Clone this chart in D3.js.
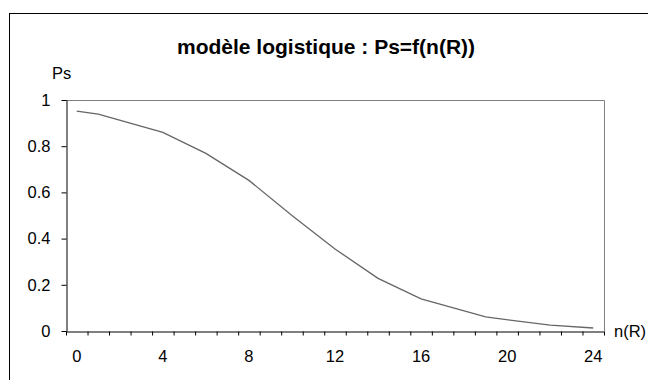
<!DOCTYPE html>
<html>
<head>
<meta charset="utf-8">
<script src="https://cdn.jsdelivr.net/npm/d3@7"></script>
<style>
  html, body { margin: 0; padding: 0; background: #fff; }
  svg { display: block; font-family: "Liberation Sans", Arial, sans-serif; }
</style>
</head>
<body>
<svg id="chart" width="648" height="380"></svg>
<script>
// Survival probability Ps as a function of n(R), logistic model
const nValues  = [0, 1, 4, 6, 8, 10, 12, 14, 16, 19, 22, 24];
const psValues = [0.952, 0.939, 0.86, 0.769, 0.652, 0.50, 0.355, 0.228, 0.139, 0.061, 0.025, 0.013];
const xTickLabels = [0, 4, 8, 12, 16, 20, 24];
const yTickValues = [0, 0.2, 0.4, 0.6, 0.8, 1];

const points = nValues.map((n, i) => ({ n, ps: psValues[i] }));

const svg = d3.select("#chart");
const plot = { left: 66, right: 604, top: 100, bottom: 331 };
const labelSize = 16.5;

// chart frame (partly outside the window)
svg.append("rect")
  .attr("x", 9.5).attr("y", 13.5)
  .attr("width", 660).attr("height", 400)
  .attr("fill", "#fff").attr("stroke", "#000").attr("stroke-width", 1);

// categories 0..24 occupy equal slots; slot centres carry the points
const x = d3.scaleLinear().domain([-0.5, 24.5]).range([plot.left, plot.right]);
const y = d3.scaleLinear().domain([0, 1]).range([plot.bottom, plot.top]);

// top and right borders of the plot area
svg.append("path")
  .attr("d", `M${plot.left},${plot.top + 0.5}H${plot.right + 0.5}V${plot.bottom}`)
  .attr("fill", "none").attr("stroke", "#808080").attr("stroke-width", 1);

// x axis: a tick at every slot boundary, labels every four categories
const xAxisG = svg.append("g").attr("transform", `translate(0,${plot.bottom + 0.5})`);
xAxisG.call(d3.axisBottom(x)
  .tickValues(d3.range(-0.5, 25, 1))
  .tickSize(4)
  .tickSizeOuter(0)
  .tickFormat(""));
xAxisG.select(".domain").attr("stroke", "#000");
xAxisG.selectAll(".tick line").attr("stroke", "#000");

svg.append("g").selectAll("text")
  .data(xTickLabels)
  .join("text")
  .attr("x", d => x(d))
  .attr("y", 362)
  .attr("text-anchor", "middle")
  .attr("font-size", labelSize)
  .attr("fill", "#000")
  .text(d => d);

// y axis
const yAxisG = svg.append("g").attr("transform", `translate(${plot.left + 0.5},0)`);
yAxisG.call(d3.axisLeft(y)
  .tickValues(yTickValues)
  .tickSize(5)
  .tickSizeOuter(0)
  .tickPadding(11)
  .tickFormat(d => d3.format("")(d)));
yAxisG.select(".domain").attr("stroke", "#000");
yAxisG.selectAll(".tick line").attr("stroke", "#000");
yAxisG.selectAll(".tick text")
  .attr("font-size", labelSize)
  .attr("font-family", "Liberation Sans, Arial, sans-serif")
  .attr("fill", "#000");

// curve
const line = d3.line().x(d => x(d.n)).y(d => y(d.ps));
svg.append("path")
  .datum(points)
  .attr("d", line)
  .attr("fill", "none")
  .attr("stroke", "#666")
  .attr("stroke-width", 1.3);

// title and axis names
svg.append("text")
  .attr("x", 326).attr("y", 54)
  .attr("text-anchor", "middle")
  .attr("font-size", 21).attr("font-weight", "bold")
  .attr("fill", "#000")
  .text("modèle logistique : Ps=f(n(R))");

svg.append("text")
  .attr("x", 52).attr("y", 79)
  .attr("font-size", labelSize).attr("fill", "#000")
  .text("Ps");

svg.append("text")
  .attr("x", 614).attr("y", 337)
  .attr("font-size", labelSize).attr("fill", "#000")
  .text("n(R)");
</script>
</body>
</html>
